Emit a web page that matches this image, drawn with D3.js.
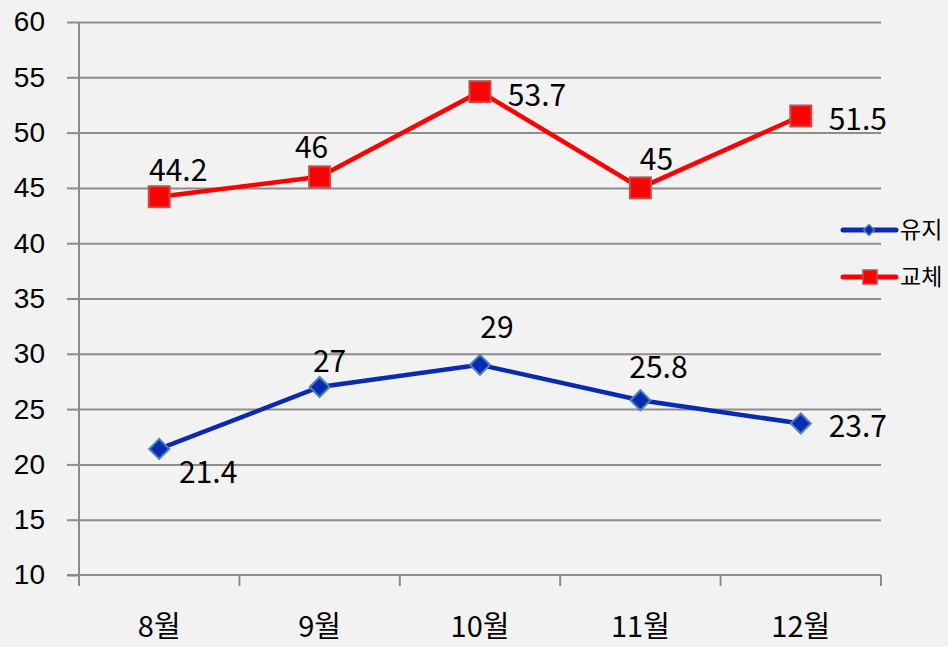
<!DOCTYPE html>
<meta charset="utf-8">
<style>
body { margin: 0; background: #f2f2f2; }
svg { display: block; font-family: "Noto Sans CJK KR", "Noto Sans", sans-serif; }
.grid line { stroke: #8c8c8c; stroke-width: 2px; }
.grid path { stroke-width: 0; }
.axis path, .axis line { stroke: #8c8c8c; stroke-width: 2px; }
.axis text { fill: #000; }
.line { fill: none; stroke-width: 4.5px; }
</style>
<body>
<script src="https://d3js.org/d3.v7.min.js"></script>
<script>

// data
var months = ["8월", "9월", "10월", "11월", "12월"];
var keep = [21.4, 27, 29, 25.8, 23.7];      // 유지
var change = [44.2, 46, 53.7, 45, 51.5];    // 교체
var yTicks = [10, 15, 20, 25, 30, 35, 40, 45, 50, 55, 60];

var width = 948, height = 647;
var margin = {top: 22, right: 67, bottom: 72, left: 79};

var svg = d3.select("body").append("svg")
    .attr("width", width)
    .attr("height", height);

var g = svg.append("g")
    .attr("transform", "translate(" + margin.left + "," + margin.top + ")");

var w = width - margin.left - margin.right,
    h = height - margin.top - margin.bottom;

var x = d3.scaleBand().domain(months).range([0, w]);
var y = d3.scaleLinear().domain([10, 60]).range([h, 0]);

// horizontal gridlines
g.append("g")
    .attr("class", "grid")
    .call(d3.axisLeft(y).tickValues(yTicks.slice(1)).tickSize(-w).tickFormat(""));

// y axis
var ya = g.append("g")
    .attr("class", "axis")
    .call(d3.axisLeft(y).tickValues(yTicks).tickSize(12).tickPadding(22));
ya.selectAll("text").style("font-size", "28px");
ya.select(".domain").attr("d", "M0,0V" + (h + 11));

// x axis
var xa = g.append("g")
    .attr("class", "axis")
    .attr("transform", "translate(0," + h + ")");
xa.append("line").attr("x1", -12).attr("x2", w).attr("y1", 0).attr("y2", 0);
xa.selectAll(".tk")
    .data(d3.range(months.length + 1))
    .enter().append("line")
    .attr("x1", function(i) { return i * x.step(); })
    .attr("x2", function(i) { return i * x.step(); })
    .attr("y1", 0).attr("y2", 11);
xa.selectAll(".lbl")
    .data(months)
    .enter().append("text")
    .attr("x", function(d) { return x(d) + x.bandwidth() / 2; })
    .attr("y", 62)
    .attr("text-anchor", "middle")
    .style("font-size", "29px")
    .text(function(d) { return d; });

var cx = function(d, i) { return x(months[i]) + x.bandwidth() / 2; };

var line = d3.line()
    .x(function(d, i) { return cx(d, i); })
    .y(function(d) { return y(d); });

// series
g.append("path").datum(keep).attr("class", "line").attr("stroke", "#0a2ab0").attr("d", line);
g.append("path").datum(change).attr("class", "line").attr("stroke", "#ff0000").attr("d", line);

g.selectAll(".dia")
    .data(keep)
    .enter().append("path")
    .attr("transform", function(d, i) { return "translate(" + cx(d, i) + "," + y(d) + ") rotate(45)"; })
    .attr("d", d3.symbol().type(d3.symbolSquare).size(200))
    .attr("fill", "#0a2ab0")
    .attr("stroke", "#4f81bd")
    .attr("stroke-width", 2);

g.selectAll(".sq")
    .data(change)
    .enter().append("rect")
    .attr("x", function(d, i) { return cx(d, i) - 10.5; })
    .attr("y", function(d) { return y(d) - 10.5; })
    .attr("width", 21).attr("height", 21)
    .attr("fill", "#ff0000")
    .attr("stroke", "#c0504d")
    .attr("stroke-width", 2);

// data labels (offsets from the marker)
var keepOff = [[49, 34], [10, -15], [17, -27], [18, -22], [57, 14]];
var changeOff = [[19, -16], [-8, -19], [57, 14], [16, -18], [57, 14]];

function labels(data, off) {
  g.selectAll(null)
      .data(data)
      .enter().append("text")
      .attr("x", function(d, i) { return cx(d, i) + off[i][0]; })
      .attr("y", function(d, i) { return y(d) + off[i][1]; })
      .attr("text-anchor", "middle")
      .style("font-size", "30px")
      .text(function(d) { return d; });
}
labels(keep, keepOff);
labels(change, changeOff);

// legend
var legend = [
  {name: "유지", color: "#0a2ab0", y: 230, kind: "d"},
  {name: "교체", color: "#ff0000", y: 277, kind: "s"}
];
var lg = svg.selectAll(".lg").data(legend).enter().append("g")
    .attr("transform", function(d) { return "translate(841," + d.y + ")"; });
lg.append("line")
    .attr("x1", 2).attr("x2", 55)
    .attr("stroke", function(d) { return d.color; })
    .attr("stroke-width", 5)
    .attr("stroke-linecap", "round");
lg.filter(function(d) { return d.kind == "d"; }).append("path")
    .attr("transform", "translate(28,0) rotate(45)")
    .attr("d", d3.symbol().type(d3.symbolSquare).size(60))
    .attr("fill", "#0a2ab0")
    .attr("stroke", "#4f81bd")
    .attr("stroke-width", 1.5);
lg.filter(function(d) { return d.kind == "s"; }).append("rect")
    .attr("x", 22).attr("y", -7).attr("width", 14).attr("height", 14)
    .attr("fill", "#ff0000")
    .attr("stroke", "#c0504d")
    .attr("stroke-width", 1.5);
lg.append("text")
    .attr("x", 59).attr("y", 8)
    .style("font-size", "23px")
    .text(function(d) { return d.name; });

</script>
</body>
